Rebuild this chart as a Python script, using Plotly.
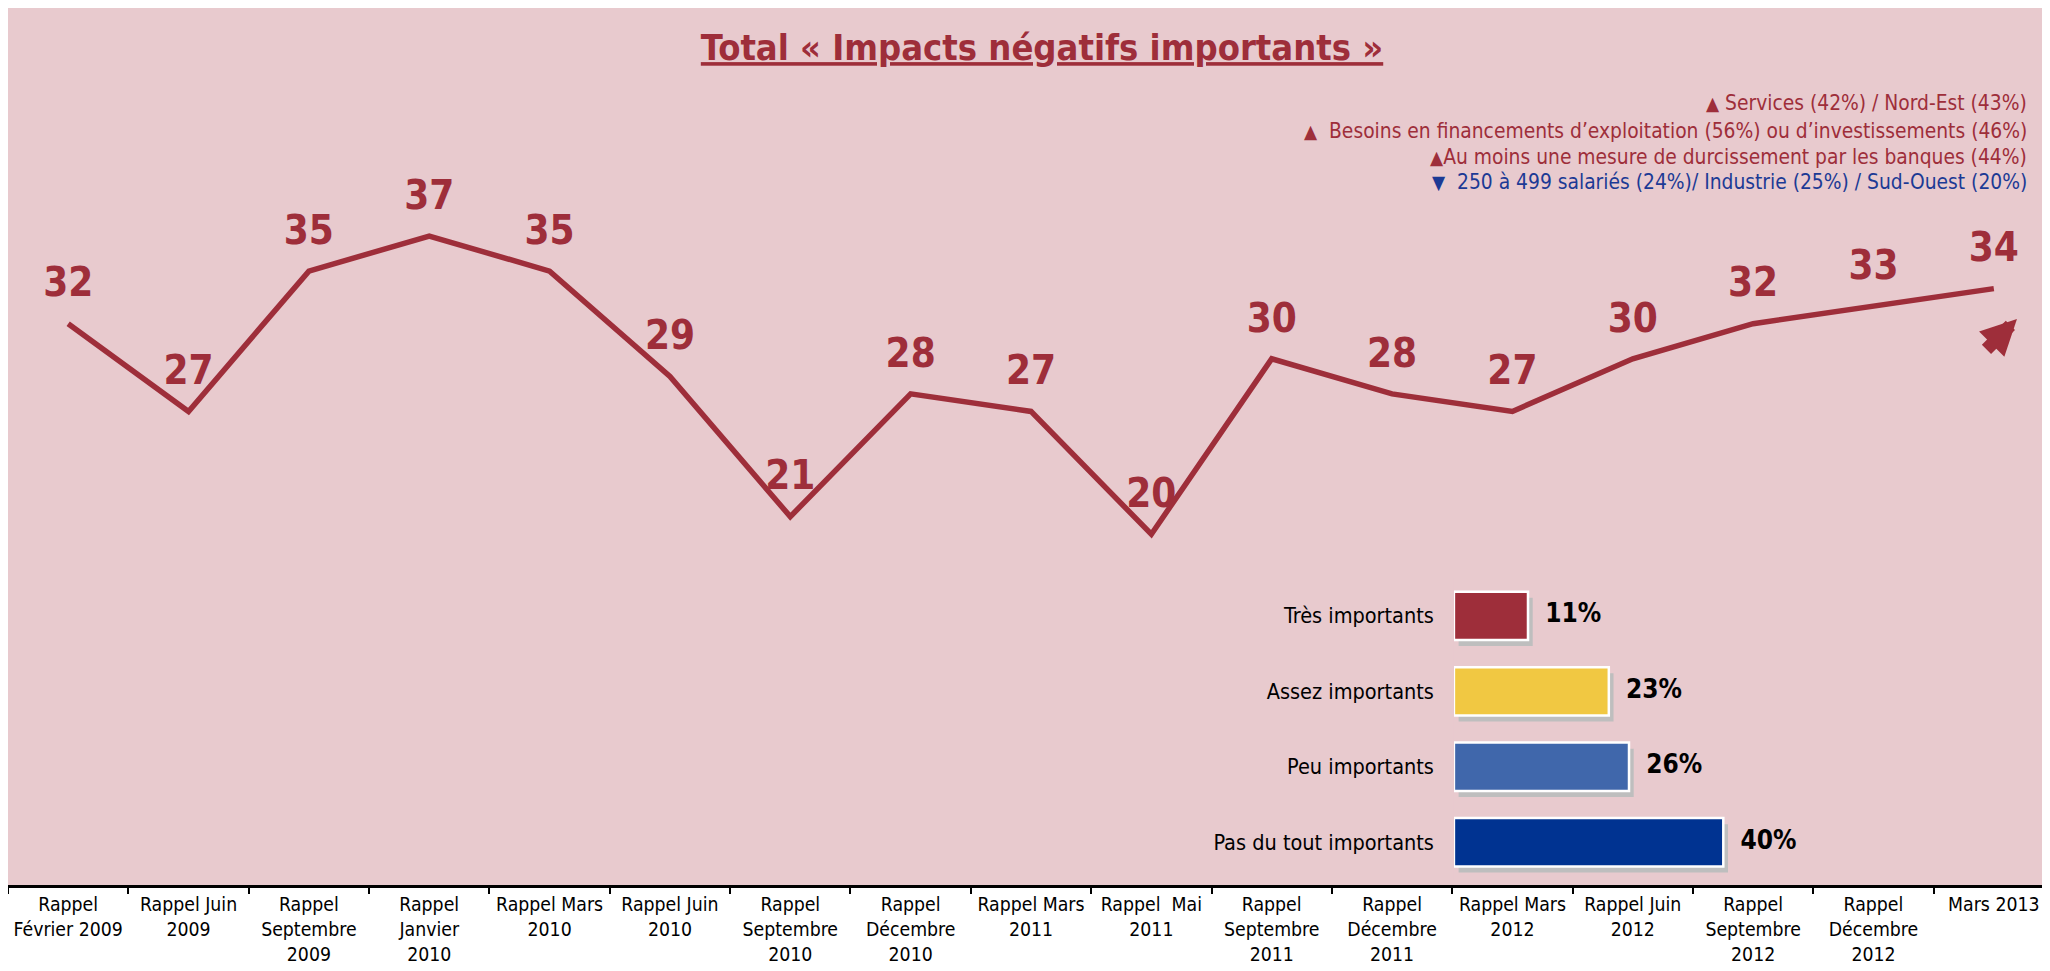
import plotly.graph_objects as go

# ---------------- data ----------------
waves = [
    "Rappel<br>Février 2009", "Rappel Juin<br>2009", "Rappel<br>Septembre<br>2009",
    "Rappel<br>Janvier<br>2010", "Rappel Mars<br>2010", "Rappel Juin<br>2010",
    "Rappel<br>Septembre<br>2010", "Rappel<br>Décembre<br>2010", "Rappel Mars<br>2011",
    "Rappel  Mai<br>2011", "Rappel<br>Septembre<br>2011", "Rappel<br>Décembre<br>2011",
    "Rappel Mars<br>2012", "Rappel Juin<br>2012", "Rappel<br>Septembre<br>2012",
    "Rappel<br>Décembre<br>2012", "Mars 2013",
]
total_impacts = [32, 27, 35, 37, 35, 29, 21, 28, 27, 20, 30, 28, 27, 30, 32, 33, 34]

detail_labels = ["Très importants", "Assez importants", "Peu importants", "Pas du tout importants"]
detail_values = [11, 23, 26, 40]
detail_colors = ["#9E2E3A", "#F1C842", "#4067AB", "#003391"]

notes_up = [
    "Services (42%) / Nord-Est (43%)",
    "Besoins en financements d’exploitation (56%) ou d’investissements (46%)",
    "Au moins une mesure de durcissement par les banques (44%)",
]
notes_down = ["250 à 499 salariés (24%)/ Industrie (25%) / Sud-Ouest (20%)"]

title_text = "Total « Impacts négatifs importants »"

# ---------------- style ----------------
RED = "#9E2E3A"
BLUE = "#1C3A95"
PINK = "#E8CACE"
FONT = "DejaVu Sans Condensed, DejaVu Sans, sans-serif"

fig = go.Figure()

# main line
fig.add_trace(go.Scatter(
    x=waves, y=total_impacts, mode="lines+markers+text",
    line=dict(color=RED, width=5.5),
    marker=dict(size=26, color="rgba(0,0,0,0)"),
    text=[str(v) for v in total_impacts], textposition="top center",
    textfont=dict(family=FONT, size=40, color=RED, weight="bold"),
    cliponaxis=False, showlegend=False, hoverinfo="skip",
    xaxis="x", yaxis="y",
))

# inset bar chart: shadow
fig.add_trace(go.Bar(
    x=detail_values, y=detail_labels, orientation="h",
    base=0.7, width=0.64, offset=-0.24,
    marker=dict(color="#BEBEBE", line=dict(width=0)),
    showlegend=False, hoverinfo="skip", xaxis="x2", yaxis="y2",
))
# inset bar chart: bars
fig.add_trace(go.Bar(
    x=detail_values, y=detail_labels, orientation="h",
    width=0.64, offset=-0.32,
    marker=dict(color=detail_colors, line=dict(color="white", width=2.5)),
    showlegend=False, hoverinfo="skip", xaxis="x2", yaxis="y2",
))
# inset bar labels
fig.add_trace(go.Scatter(
    x=detail_values, y=detail_labels, mode="markers+text",
    marker=dict(size=26, color="rgba(0,0,0,0)"),
    text=[f"{v}%" for v in detail_values], textposition="middle right",
    textfont=dict(family=FONT, size=26, color="black", weight="bold"),
    cliponaxis=False, showlegend=False, hoverinfo="skip",
    xaxis="x2", yaxis="y2",
))

annotations = []
note_y = [0.8917, 0.8597, 0.8301, 0.8016]
seps = [" ", "  ", ""]
for i, t in enumerate(notes_up):
    annotations.append(dict(
        xref="paper", yref="paper", x=0.9878, y=note_y[i], xanchor="right", yanchor="middle",
        text=f"<span style='font-size:19px'>▲</span>{seps[i]}{t}", showarrow=False,
        font=dict(family=FONT, size=20.8, color=RED),
    ))
for j, t in enumerate(notes_down):
    annotations.append(dict(
        xref="paper", yref="paper", x=0.9878, y=note_y[3 + j], xanchor="right", yanchor="middle",
        text=f"<span style='font-size:19px'>▼</span>  {t}", showarrow=False,
        font=dict(family=FONT, size=20.8, color=BLUE),
    ))
# trend arrow
annotations.append(dict(
    xref="paper", yref="paper", x=0.9819, y=0.6455, text="", showarrow=True,
    ax=-32, ay=32, arrowhead=2, arrowsize=0.55, arrowwidth=13, arrowcolor=RED,
))

fig.update_layout(
    width=2050, height=971,
    margin=dict(l=0, r=4, t=0, b=94),
    paper_bgcolor="white", plot_bgcolor=PINK,
    title=dict(text=f"<u>{title_text}</u>", x=0.5044, xanchor="center",
               y=0.9593, yanchor="middle",
               font=dict(family=FONT, size=36, color=RED, weight="bold")),
    xaxis=dict(type="category", range=[-0.5, 16.5], tickson="boundaries",
               ticks="outside", ticklen=6, tickwidth=1.5, tickcolor="black",
               showline=True, linecolor="black", linewidth=2.5, showgrid=False,
               automargin=False, tickangle=0,
               tickfont=dict(family=FONT, size=19.3, color="black"), domain=[0, 1]),
    yaxis=dict(range=[0, 50], visible=False, showgrid=False, domain=[0, 1],
               automargin=False),
    xaxis2=dict(domain=[0.7067, 0.9042], range=[0, 60], anchor="y2", visible=False),
    yaxis2=dict(domain=[0.0057, 0.350], anchor="x2", type="category",
                autorange="reversed", showgrid=False, showline=False, ticks="",
                ticklabelstandoff=19, automargin=False,
                tickfont=dict(family=FONT, size=21.5, color="black")),
    bargap=0.36, barmode="overlay",
    annotations=annotations,
)

fig.write_html("out.html")
